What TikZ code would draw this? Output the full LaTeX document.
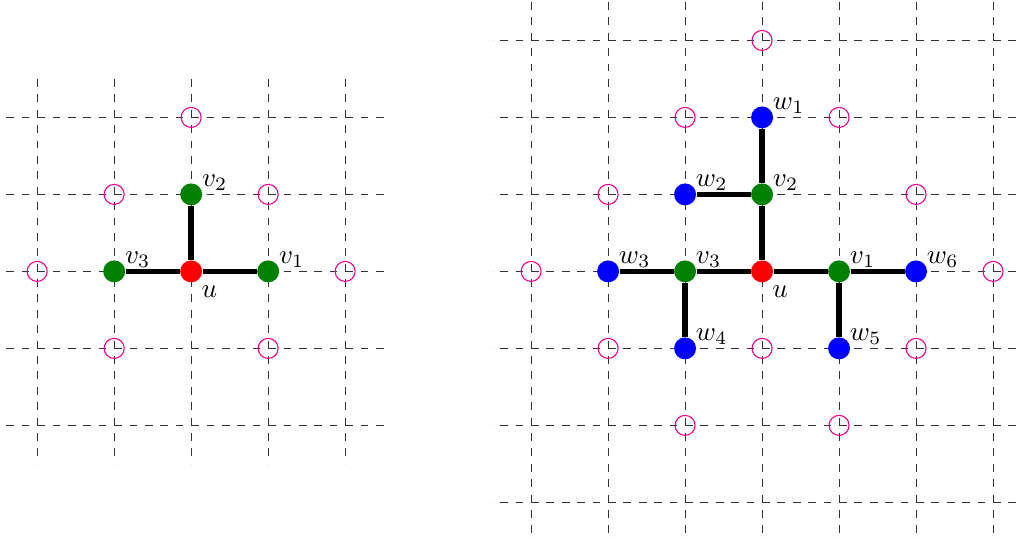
\documentclass[tikz,border=0pt]{standalone}
\begin{document}
\begin{tikzpicture}[
        gridline/.style={black!80, thin, dash pattern=on 1mm off 1mm},
        site/.style={draw=magenta, thin},
        vert/.style={circle, inner sep=0pt, minimum size=0.285cm},
        edge/.style={line width=2pt},
        lab/.style={label distance=-1pt, inner sep=1pt, yshift=-1.5pt}
    ]
        \useasboundingbox (-2.483,-3.49) rectangle (10.817,3.525);

        % left picture
        \foreach \t in {-2,...,2} {
            \draw[gridline] (\t,2.5) -- (\t,-2.5);
            \draw[gridline] (2.5,\t) -- (-2.5,\t);
        }
        \foreach \p in {(0,2),(-1,1),(1,1),(-2,0),(2,0),(-1,-1),(1,-1)}
            \draw[site] \p circle [radius=0.13];

        \node[vert, fill=red, label={[lab, xshift=1pt]-60:$u$}] (lu) at (0,0) {};
        \node[vert, fill=green!50!black, label={[lab]30:$v_1$}] (lv1) at (1,0) {};
        \node[vert, fill=green!50!black, label={[lab]30:$v_2$}] (lv2) at (0,1) {};
        \node[vert, fill=green!50!black, label={[lab]30:$v_3$}] (lv3) at (-1,0) {};
        \draw[edge] (lu) -- (lv1);
        \draw[edge] (lu) -- (lv2);
        \draw[edge] (lu) -- (lv3);

        % right picture
        \begin{scope}[xshift=7.415cm]
            \foreach \t in {-3,...,3} {
                \draw[gridline] (\t,3.5) -- (\t,-3.5);
                \draw[gridline] (3.5,\t) -- (-3.5,\t);
            }
            \foreach \p in {(0,3),(-1,2),(1,2),(-2,1),(2,1),(-3,0),(3,0),
                            (-2,-1),(0,-1),(2,-1),(-1,-2),(1,-2)}
                \draw[site] \p circle [radius=0.13];

            \node[vert, fill=red, label={[lab, xshift=1pt]-60:$u$}] (ru) at (0,0) {};
            \node[vert, fill=green!50!black, label={[lab]30:$v_1$}] (rv1) at (1,0) {};
            \node[vert, fill=green!50!black, label={[lab]30:$v_2$}] (rv2) at (0,1) {};
            \node[vert, fill=green!50!black, label={[lab]30:$v_3$}] (rv3) at (-1,0) {};
            \node[vert, fill=blue, label={[lab]30:$w_1$}] (rw1) at (0,2) {};
            \node[vert, fill=blue, label={[lab]30:$w_2$}] (rw2) at (-1,1) {};
            \node[vert, fill=blue, label={[lab]30:$w_3$}] (rw3) at (-2,0) {};
            \node[vert, fill=blue, label={[lab]30:$w_4$}] (rw4) at (-1,-1) {};
            \node[vert, fill=blue, label={[lab]30:$w_5$}] (rw5) at (1,-1) {};
            \node[vert, fill=blue, label={[lab]30:$w_6$}] (rw6) at (2,0) {};
            \draw[edge] (ru) -- (rv1);
            \draw[edge] (ru) -- (rv2);
            \draw[edge] (ru) -- (rv3);
            \draw[edge] (rv2) -- (rw1);
            \draw[edge] (rv2) -- (rw2);
            \draw[edge] (rv3) -- (rw3);
            \draw[edge] (rv3) -- (rw4);
            \draw[edge] (rv1) -- (rw5);
            \draw[edge] (rv1) -- (rw6);
        \end{scope}
    \end{tikzpicture}
\end{document}
